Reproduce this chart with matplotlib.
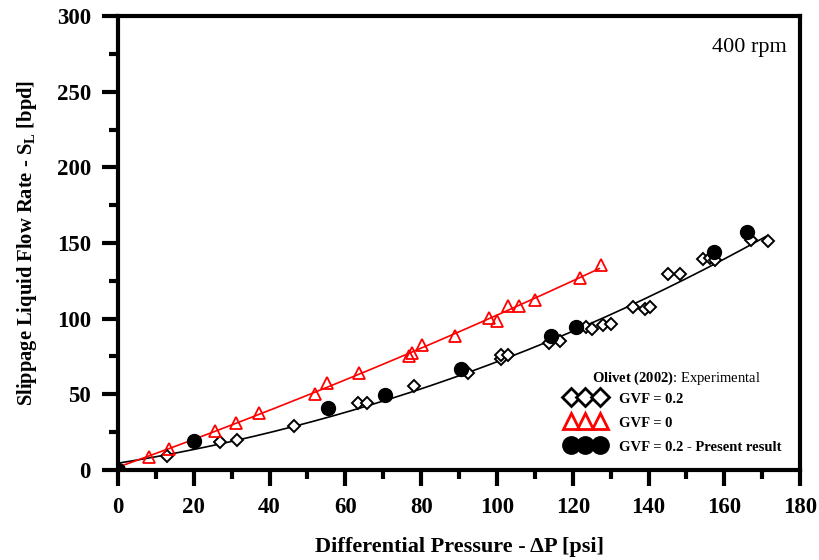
import numpy as np
import matplotlib.pyplot as plt
from matplotlib.lines import Line2D
from matplotlib.ticker import MultipleLocator

plt.rcParams['font.family'] = ['Liberation Serif', 'DejaVu Serif']
plt.rcParams['mathtext.fontset'] = 'custom'
plt.rcParams['mathtext.rm'] = 'Liberation Serif'
plt.rcParams['mathtext.bf'] = 'Liberation Serif:bold'
plt.rcParams['mathtext.it'] = 'Liberation Serif:italic'

# Olivet (2002) experimental, GVF = 0.2
exp02_dp = [12.9, 26.8, 31.5, 46.4, 63.4, 65.6, 78.0, 92.4, 101.0, 101.0, 103.0,
            113.8, 116.6, 123.6, 125.1, 128.0, 130.0, 136.0, 139.0, 140.5,
            145.2, 148.3, 154.4, 156.3, 157.6, 167.1, 171.5]
exp02_sl = [9.3, 18.7, 19.8, 29.1, 44.1, 44.1, 55.5, 63.9, 73.2, 76.0, 76.0,
            84.1, 85.5, 94.7, 93.4, 95.6, 96.5, 107.5, 106.6, 107.5,
            129.3, 129.3, 139.5, 140.3, 138.8, 152.0, 151.6]

# Olivet (2002) experimental, GVF = 0
exp0_dp = [8.3, 13.6, 25.5, 31.2, 37.2, 51.9, 55.2, 63.6, 76.8, 77.7, 80.3,
           88.8, 97.9, 99.9, 103.0, 105.7, 110.0, 122.0, 127.5]
exp0_sl = [8.4, 13.7, 25.6, 31.3, 37.5, 50.2, 57.3, 63.9, 75.3, 77.1, 82.6,
           88.6, 100.5, 98.7, 108.4, 108.4, 112.4, 127.1, 135.3]

# present model, GVF = 0.2
model_dp = [0, 20.2, 55.4, 70.4, 90.6, 114.3, 120.9, 157.2, 166.0]
model_sl = [0, 19.2, 41.2, 49.6, 67.0, 88.6, 94.7, 144.3, 157.0]

# points (GVF = 0.2)
trend02_dp = [0, 24.4, 51.0, 74.9, 101.4, 120.0, 143.9, 171.3]
trend02_sl = [4.4, 16.0, 31.3, 48.5, 74.9, 91.4, 117.8, 155.3]

c02 = np.polyfit(trend02_dp, trend02_sl, 3)
c0 = np.polyfit(exp0_dp, exp0_sl, 2)
x02 = np.linspace(0, 171, 200)
x0 = np.linspace(0, 127, 200)

fig = plt.figure(figsize=(8.19, 5.6), dpi=100)
ax = fig.add_axes([0.144, 0.161, 0.833, 0.81])

ax.plot(x02, np.polyval(c02, x02), color='black', lw=1.2, zorder=2)
ax.plot(x0, np.polyval(c0, x0), color='red', lw=1.2, zorder=2)
ax.plot(exp02_dp, exp02_sl, ls='none', marker='D', ms=6.5, mfc='white',
        mec='black', mew=1.4, zorder=3)
ax.plot(exp0_dp, exp0_sl, ls='none', marker='^', ms=8, mfc='none',
        mec='red', mew=1.3, zorder=3)
ax.plot(model_dp, model_sl, ls='none', marker='o', ms=10, color='black', zorder=4)

ax.set_xlim(0, 180)
ax.set_ylim(0, 300)
ax.xaxis.set_major_locator(MultipleLocator(20))
ax.xaxis.set_minor_locator(MultipleLocator(10))
ax.yaxis.set_major_locator(MultipleLocator(50))
ax.yaxis.set_minor_locator(MultipleLocator(25))
ax.tick_params(which='major', direction='out', length=11.5, width=3,
               labelsize=16.5, pad=8)
ax.tick_params(which='minor', direction='out', length=6.5, width=3)
for lab in ax.get_xticklabels() + ax.get_yticklabels():
    lab.set_fontweight('bold')
for s in ax.spines.values():
    s.set_linewidth(3)

ax.set_xlabel('Differential Pressure - ΔP [psi]', fontsize=16, fontweight='bold',
              labelpad=14)
ax.set_ylabel(r'Slippage Liquid Flow Rate - S$_\mathbf{L}$ [bpd]', fontsize=14.8,
              fontweight='bold', labelpad=13)

ax.text(0.981, 0.93, '400 rpm', transform=ax.transAxes, ha='right', va='center',
        fontsize=16)

# legend title drawn separately (bold author, regular rest)
ax.text(0.818, 0.2026, r'$\mathbf{Olivet\ (2002)}$: Experimental',
        transform=ax.transAxes, ha='center', va='center', fontsize=10.5)

handles = [
    Line2D([], [], ls='none', marker='D', ms=9.5, mfc='white', mec='black', mew=2),
    Line2D([], [], ls='none', marker='^', ms=12, mfc='none', mec='red', mew=2),
    Line2D([], [], ls='none', marker='o', ms=12.5, color='black'),
]
labels = ['GVF = 0.2', 'GVF = 0', 'GVF = 0.2 - Present result']
leg = ax.legend(handles, labels, loc='lower right', bbox_to_anchor=(0.981, 0.022),
                frameon=False, numpoints=3, handlelength=2.6, handleheight=1.0,
                handletextpad=1.0, labelspacing=0.65, borderaxespad=0.0,
                prop={'size': 10.5, 'weight': 'bold'})

fig.savefig('out.png', dpi=100)
